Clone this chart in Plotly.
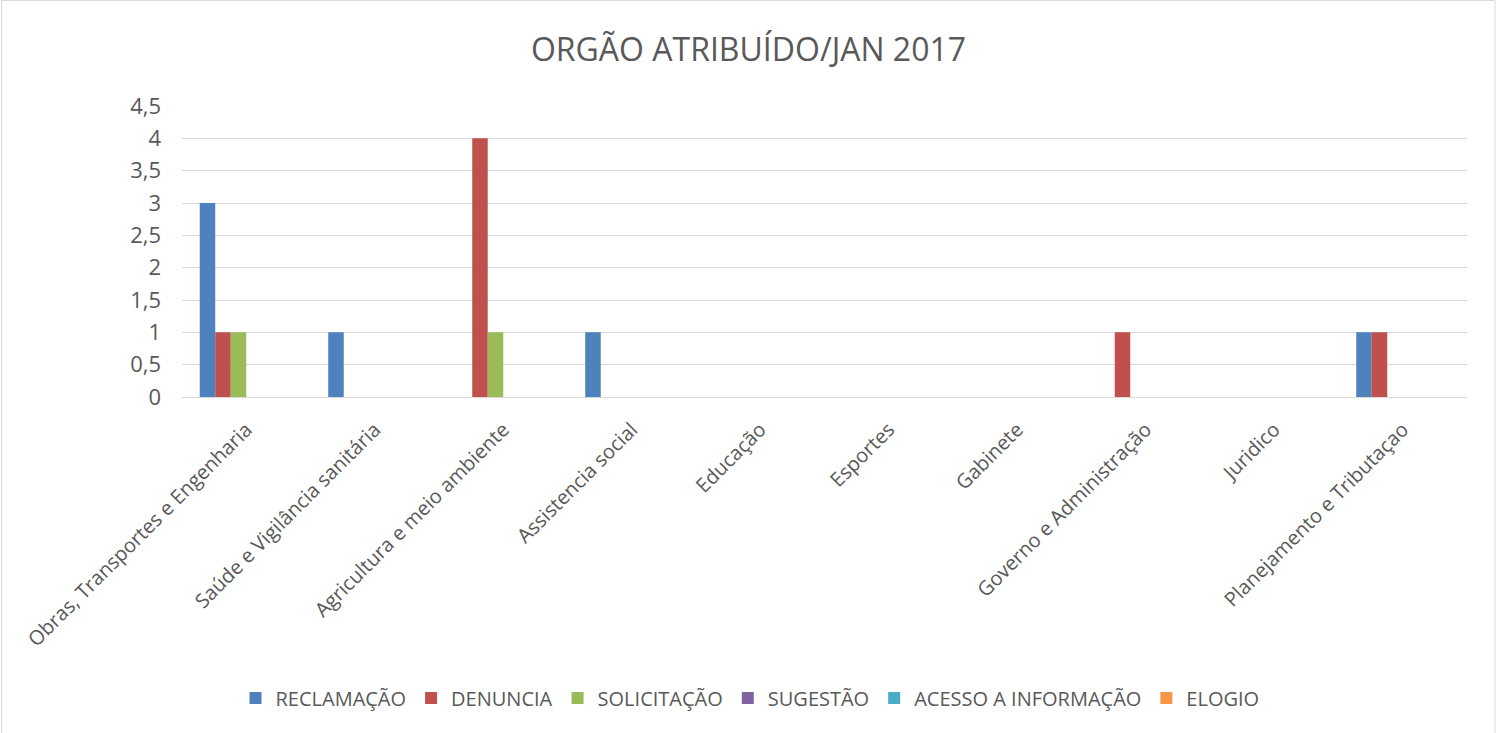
import plotly.graph_objects as go

categories = ["Obras, Transportes e Engenharia", "Saúde e Vigilância sanitária",
              "Agricultura e meio ambiente", "Assistencia social", "Educação",
              "Esportes", "Gabinete", "Governo e Administração", "Juridico",
              "Planejamento e Tributaçao"]
reclamacao = [3, 1, 0, 1, 0, 0, 0, 0, 0, 1]
denuncia = [1, 0, 4, 0, 0, 0, 0, 1, 0, 1]
solicitacao = [1, 0, 1, 0, 0, 0, 0, 0, 0, 0]
sugestao = [0, 0, 0, 0, 0, 0, 0, 0, 0, 0]
acesso = [0, 0, 0, 0, 0, 0, 0, 0, 0, 0]
elogio = [0, 0, 0, 0, 0, 0, 0, 0, 0, 0]
series_names = ["RECLAMAÇÃO", "DENUNCIA", "SOLICITAÇÃO", "SUGESTÃO", "ACESSO A INFORMAÇÃO", "ELOGIO"]
y_ticks = [0, 0.5, 1, 1.5, 2, 2.5, 3, 3.5, 4, 4.5]

colors = ["#4F81BD", "#C0504D", "#9BBB59", "#8064A2", "#4BACC6", "#F79646"]
data = [reclamacao, denuncia, solicitacao, sugestao, acesso, elogio]

fig = go.Figure()
for name, vals, c in zip(series_names, data, colors):
    fig.add_trace(go.Bar(x=categories, y=vals, name=name, marker_color=c,
                         marker_line_width=0))

W, H = 1497, 733
ml, mr, mt, mb = 182, 30, 106, 336
px_w = W - ml - mr
px_h = H - mt - mb
fig.update_layout(
    width=W, height=H,
    margin=dict(l=ml, r=mr, t=mt, b=mb),
    paper_bgcolor="white", plot_bgcolor="white",
    separators=",.",
    barmode="group", bargap=0.276, bargroupgap=0,
    font=dict(family="Open Sans", color="#595959"),
    title=dict(text="ORGÃO ATRIBUÍDO/JAN 2017", x=0.5, xanchor="center",
               y=1 - 50 / H, yanchor="middle",
               font=dict(size=32, color="#595959", family="Open Sans")),
    legend=dict(orientation="h", x=(750 - ml) / px_w, xanchor="center",
                y=-(698 - 397) / px_h,
                yanchor="middle", font=dict(size=20, color="#595959", family="Open Sans"),
                itemwidth=30, traceorder="normal"),
    showlegend=True,
)
fig.update_yaxes(range=[0, 4.5], tickvals=y_ticks, showgrid=True, gridcolor="#D9D9D9",
                 gridwidth=1, zeroline=False, showline=False, ticks="",
                 tickfont=dict(size=22, color="#595959"), ticklabelstandoff=20)
fig.update_xaxes(showgrid=False, showline=True, linecolor="#D9D9D9", linewidth=1,
                 ticks="", tickangle=-45, tickfont=dict(size=20, color="#595959"),
                 ticklabelstandoff=12)

# outer chart border
fig.add_shape(type="rect", xref="paper", yref="paper",
              x0=(1.5 - ml) / px_w, x1=(W - 2 - ml) / px_w,
              y0=-(mb + 5) / px_h, y1=1 + (mt - 0.5) / px_h,
              line=dict(color="#D9D9D9", width=1), fillcolor="rgba(0,0,0,0)", layer="below")

fig.write_html("out.html", config={"displayModeBar": False},
               post_script="document.body.style.margin='0';document.documentElement.style.overflow='hidden';")
